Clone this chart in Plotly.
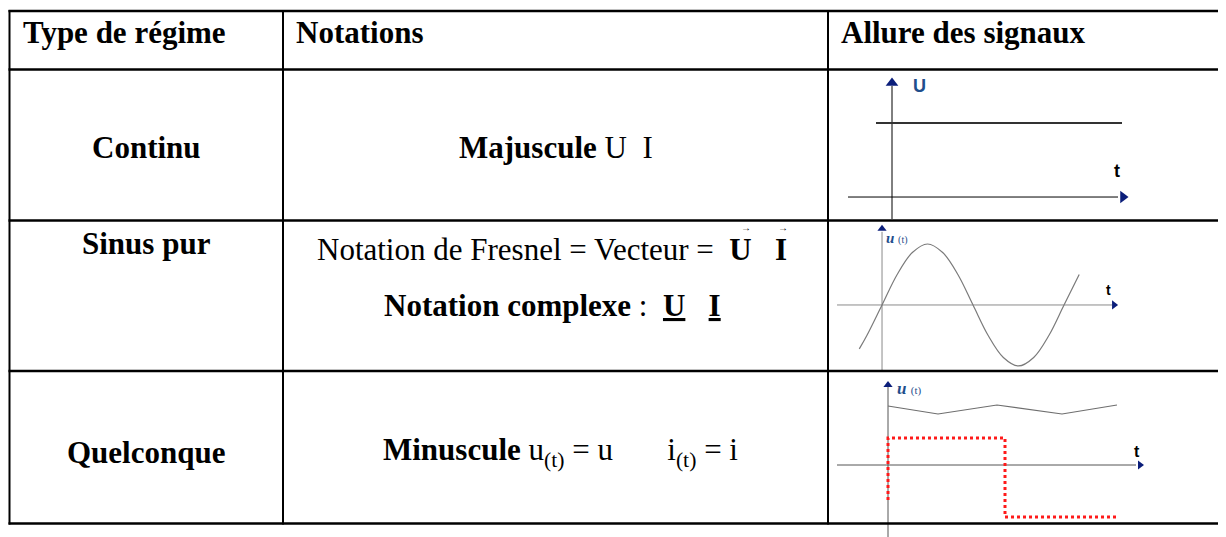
import plotly.graph_objects as go

# page body has an 8px margin: the figure is placed at (8, 8)
OFF = 8
FW, FH = 1218, 529

# ---------------- data ----------------
headers = ["Type de régime", "Notations", "Allure des signaux"]
regimes = ["Continu", "Sinus pur", "Quelconque"]

# Continu: constant U
cont_t = [-1.6, 23.0]
cont_u = [1.0, 1.0]

# Sinus pur: values (t in degrees, u normalised)
sin_t = [-45, -30, 0, 30, 60, 90, 120, 150, 180, 210, 240, 270, 300, 330, 360, 390]
sin_u = [-0.72, -0.5, 0.0, 0.5, 0.86, 1.0, 0.86, 0.5, 0.0, -0.5, -0.86, -1.0, -0.86, -0.5, 0.0, 0.5]

# Quelconque: zigzag and square signal
zig_t = [0, 5.0, 10.9, 17.4, 22.9]
zig_u = [5.9, 5.1, 6.0, 5.1, 6.0]
sq_t = [0, 0, 11.7, 11.7, 22.9]
sq_u = [-3.5, 2.7, 2.7, -5.2, -5.2]

fig = go.Figure()

def px(x):
    return (x - OFF) / FW

def py(y):
    return 1 - (y - OFF) / FH

SERIF = "Liberation Serif, Times New Roman, serif"
SANS = "Liberation Sans, Arial, sans-serif"
NAVY = "#0B1E7A"
LABEL = "#1F4E8C"

# ---------- main pixel axes (layout only) ----------
fig.update_layout(
    width=FW, height=FH, margin=dict(l=0, r=0, t=0, b=0),
    paper_bgcolor="white", plot_bgcolor="rgba(0,0,0,0)",
    showlegend=False,
    xaxis=dict(range=[OFF, OFF + FW], domain=[0, 1], visible=False, fixedrange=True),
    yaxis=dict(range=[OFF + FH, OFF], domain=[0, 1], visible=False, fixedrange=True),
)

# ---------- mini chart 1 : Continu ----------
fig.update_layout(
    xaxis2=dict(domain=[px(830), px(1226)], range=[-6.2, 33.4], visible=False, anchor="y2"),
    yaxis2=dict(domain=[py(219), py(71)], range=[-0.297, 1.703], visible=False, anchor="x2"),
)
fig.add_trace(go.Scatter(x=[0, 0], y=[-0.3, 1.5], mode="lines", line=dict(color="black", width=1),
                         xaxis="x2", yaxis="y2", hoverinfo="skip"))
fig.add_trace(go.Scatter(x=[-4.4, 22.6], y=[0, 0], mode="lines", line=dict(color="black", width=1),
                         xaxis="x2", yaxis="y2", hoverinfo="skip"))
fig.add_trace(go.Scatter(x=[0], y=[1.54], mode="markers",
                         marker=dict(symbol="triangle-up", size=11, color=NAVY),
                         xaxis="x2", yaxis="y2", hoverinfo="skip"))
fig.add_trace(go.Scatter(x=[23.1], y=[0], mode="markers",
                         marker=dict(symbol="triangle-right", size=11, color=NAVY),
                         xaxis="x2", yaxis="y2", hoverinfo="skip"))
fig.add_trace(go.Scatter(x=cont_t, y=cont_u, mode="lines", line=dict(color="#333333", width=2),
                         xaxis="x2", yaxis="y2", hoverinfo="skip"))

# ---------- mini chart 2 : Sinus pur ----------
fig.update_layout(
    xaxis3=dict(domain=[px(830), px(1226)], range=[-102.9, 680.4], visible=False, anchor="y3"),
    yaxis3=dict(domain=[py(370), py(221)], range=[-1.066, 1.377], visible=False, anchor="x3"),
)
fig.add_trace(go.Scatter(x=[0, 0], y=[-1.07, 1.2], mode="lines", line=dict(color="#8a8a8a", width=1),
                         xaxis="x3", yaxis="y3", hoverinfo="skip"))
fig.add_trace(go.Scatter(x=[-89, 455], y=[0, 0], mode="lines", line=dict(color="#8a8a8a", width=1),
                         xaxis="x3", yaxis="y3", hoverinfo="skip"))
fig.add_trace(go.Scatter(x=[0], y=[1.25], mode="markers",
                         marker=dict(symbol="triangle-up", size=8, color=NAVY),
                         xaxis="x3", yaxis="y3", hoverinfo="skip"))
fig.add_trace(go.Scatter(x=[459], y=[0], mode="markers",
                         marker=dict(symbol="triangle-right", size=8, color=NAVY),
                         xaxis="x3", yaxis="y3", hoverinfo="skip"))
fig.add_trace(go.Scatter(x=sin_t, y=sin_u, mode="lines", line=dict(color="#7a7a7a", width=1.2, shape="spline"),
                         xaxis="x3", yaxis="y3", hoverinfo="skip"))

# ---------- mini chart 3 : Quelconque ----------
fig.update_layout(
    xaxis4=dict(domain=[px(830), px(1226)], range=[-5.8, 33.8], visible=False, anchor="y4"),
    yaxis4=dict(domain=[0, py(373)], range=[-7.2, 9.2], visible=False, anchor="x4"),
)
fig.add_trace(go.Scatter(x=[0, 0], y=[-7.2, 7.8], mode="lines", line=dict(color="#555555", width=1),
                         xaxis="x4", yaxis="y4", hoverinfo="skip"))
fig.add_trace(go.Scatter(x=[-5.1, 24.8], y=[0, 0], mode="lines", line=dict(color="#555555", width=1),
                         xaxis="x4", yaxis="y4", hoverinfo="skip"))
fig.add_trace(go.Scatter(x=[0], y=[8.0], mode="markers",
                         marker=dict(symbol="triangle-up", size=8, color=NAVY),
                         xaxis="x4", yaxis="y4", hoverinfo="skip"))
fig.add_trace(go.Scatter(x=[25.2], y=[0], mode="markers",
                         marker=dict(symbol="triangle-right", size=8, color=NAVY),
                         xaxis="x4", yaxis="y4", hoverinfo="skip"))
fig.add_trace(go.Scatter(x=zig_t, y=zig_u, mode="lines", line=dict(color="#6e6e6e", width=1.2),
                         xaxis="x4", yaxis="y4", hoverinfo="skip"))
fig.add_trace(go.Scatter(x=sq_t, y=sq_u, mode="lines", line=dict(color="#ff1a1a", width=3, dash="dot"),
                         xaxis="x4", yaxis="y4", hoverinfo="skip"))

# ---------- table grid ----------
grid = []
for y in [11, 69.5, 220.5, 371, 523.5]:
    grid.append(dict(type="line", xref="x", yref="y", x0=8.5, x1=OFF + FW, y0=y, y1=y,
                     line=dict(color="black", width=2.5)))
for x in [9.5, 283, 828]:
    grid.append(dict(type="line", xref="x", yref="y", x0=x, x1=x, y0=10, y1=524.5,
                     line=dict(color="black", width=2)))
fig.update_layout(shapes=grid)

# ---------- text ----------
ann = []

def txt(x, y, s, size=31, xanchor="center", font=SERIF, color="black"):
    ann.append(dict(x=x, y=y, xref="x", yref="y", text=s, showarrow=False,
                    xanchor=xanchor, yanchor="middle",
                    font=dict(family=font, size=size, color=color)))

txt(21, 32, "<b>%s</b>" % headers[0], xanchor="left")
txt(294, 32, "<b>%s</b>" % headers[1], xanchor="left")
txt(839, 32, "<b>%s</b>" % headers[2], xanchor="left")

txt(146, 147, "<b>%s</b>" % regimes[0])
txt(146, 243, "<b>%s</b>" % regimes[1])
txt(146, 452, "<b>%s</b>" % regimes[2])

txt(556, 147, "<b>Majuscule</b> U  I")
txt(552, 249, "Notation de Fresnel = Vecteur =  <b>U   I</b>")
txt(746, 227, "\u2192", size=10)
txt(783, 227, "\u2192", size=10)
txt(552, 305, "<b>Notation complexe</b> :  <b><u>U</u>   <u>I</u></b>")
txt(560, 452, "<b>Minuscule</b> u<sub>(t)</sub> = u       i<sub>(t)</sub> = i")

# chart labels
txt(911, 86, "<b>U</b>", size=18, xanchor="left", font=SANS, color=LABEL)
txt(1112, 171, "<b>t</b>", size=18, xanchor="left", font=SANS)
txt(884, 238, "<b><i>u</i></b> <span style='font-size:10px'>(t)</span>", size=15, xanchor="left",
    font=SERIF, color=LABEL)
txt(1104, 290, "<b>t</b>", size=14, xanchor="left", font=SANS)
txt(895, 388, "<b><i>u</i></b> <span style='font-size:11px'>(t)</span>", size=17, xanchor="left",
    font=SERIF, color=LABEL)
txt(1132, 451, "<b>t</b>", size=16, xanchor="left", font=SANS)

fig.update_layout(annotations=ann)

fig.write_html("out.html")
